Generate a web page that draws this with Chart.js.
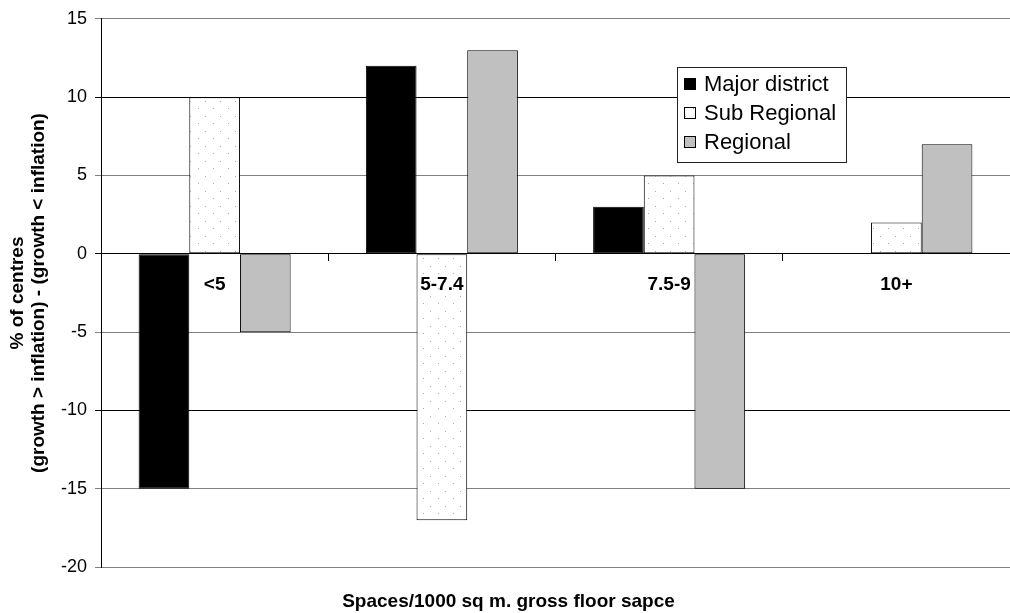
<!DOCTYPE html>
<html>
<head>
<meta charset="utf-8">
<script src="https://cdn.jsdelivr.net/npm/chart.js@4/dist/chart.umd.min.js"></script>
<style>
  html, body { margin: 0; padding: 0; background: #fff; }
  #wrap { width: 1010px; height: 613px; }
</style>
</head>
<body>
<div id="wrap"><canvas id="parking"></canvas></div>
<script>
// chart data
const categories = ["<5", "5-7.4", "7.5-9", "10+"];
const seriesNames = ["Major district", "Sub Regional", "Regional"];
const majorDistrict = [-15, 12, 3, 0];
const subRegional = [10, -17, 5, 2];
const regional = [-5, 13, -15, 7];
const yMin = -20, yMax = 15, yStep = 5;
const yTitleLines = ["% of centres", "(growth > inflation) - (growth < inflation)"];

const FONT = "'Liberation Sans', Arial, sans-serif";

// dotted fill used by the Sub Regional bars
function dotPattern() {
     const tile = document.createElement("canvas");
     tile.width = 15;
     tile.height = 15;
     const t = tile.getContext("2d");
     t.fillStyle = "#fff";
     t.fillRect(0, 0, 15, 15);
     t.fillStyle = "#a8a8a8";
     t.fillRect(3, 3, 1, 1);
     t.fillRect(10, 11, 1, 1);
     return t.createPattern(tile, "repeat");
}
const dots = dotPattern();

// legend box drawn inside the plot, like the original
const boxLegend = {
     id: "boxLegend",
     afterDraw(chart) {
          const ctx = chart.ctx;
          const x = 677.5, y = 67.5, w = 169, h = 95;
          ctx.save();
          ctx.fillStyle = "#fff";
          ctx.fillRect(x, y, w, h);
          ctx.strokeStyle = "#222";
          ctx.lineWidth = 1;
          ctx.strokeRect(x, y, w, h);
          ctx.font = "22px " + FONT;
          ctx.textBaseline = "middle";
          ctx.textAlign = "left";
          chart.data.datasets.forEach((ds, i) => {
               const cy = 84 + i * 29;
               ctx.fillStyle = ds.backgroundColor;
               ctx.fillRect(684, cy - 6, 12, 12);
               ctx.strokeStyle = "#000";
               ctx.strokeRect(684.5, cy - 5.5, 11, 11);
               ctx.fillStyle = "#000";
               ctx.fillText(ds.label, 704, cy + 1);
          });
          ctx.restore();
     }
};

new Chart("parking", {
     type: "bar",
     data: {
          labels: categories,
          datasets: [
               { label: seriesNames[0], data: majorDistrict, backgroundColor: "#000000" },
               { label: seriesNames[1], data: subRegional, backgroundColor: dots },
               { label: seriesNames[2], data: regional, backgroundColor: "#c0c0c0" }
          ]
     },
     options: {
          responsive: true,
          maintainAspectRatio: false,
          animation: false,
          layout: { padding: { left: 0, right: -7, top: 17, bottom: 0 } },
          datasets: {
               bar: {
                    borderColor: "#000",
                    borderWidth: 1,
                    borderSkipped: false,
                    categoryPercentage: 0.669,
                    barPercentage: 1.0
               }
          },
          plugins: {
               legend: { display: false },
               tooltip: { enabled: false },
               title: {
                    display: true,
                    position: "bottom",
                    text: "Spaces/1000 sq m. gross floor sapce",
                    color: "#000",
                    font: { family: FONT, size: 19, weight: "bold", lineHeight: 1.2 },
                    padding: { top: 23, bottom: 0 }
               }
          },
          scales: {
               x: {
                    position: { y: 0 },
                    offset: true,
                    grid: {
                         display: true,
                         offset: true,
                         drawOnChartArea: false,
                         drawTicks: true,
                         tickLength: 7,
                         color: "#000"
                    },
                    border: { display: true, color: "#000", width: 1 },
                    ticks: {
                         z: 1,
                         color: "#000",
                         padding: 13,
                         font: { family: FONT, size: 19, weight: "bold" }
                    }
               },
               y: {
                    min: yMin,
                    max: yMax,
                    afterFit(scale) { scale.width = 101; },
                    ticks: {
                         stepSize: yStep,
                         color: "#000",
                         padding: 8,
                         font: { family: FONT, size: 18 }
                    },
                    grid: {
                         color: (c) => (c.tick && c.tick.value % 10 === 0 && c.tick.value !== yMin) ? "#000" : "#808080",
                         tickLength: 6,
                         lineWidth: 1
                    },
                    border: { display: true, color: "#000", width: 1 },
                    title: {
                         display: true,
                         text: yTitleLines,
                         color: "#000",
                         font: { family: FONT, size: 19, weight: "bold", lineHeight: 1.1 },
                         padding: { top: 7, bottom: 0 }
                    }
               }
          }
     },
     plugins: [boxLegend]
});
</script>
</body>
</html>
